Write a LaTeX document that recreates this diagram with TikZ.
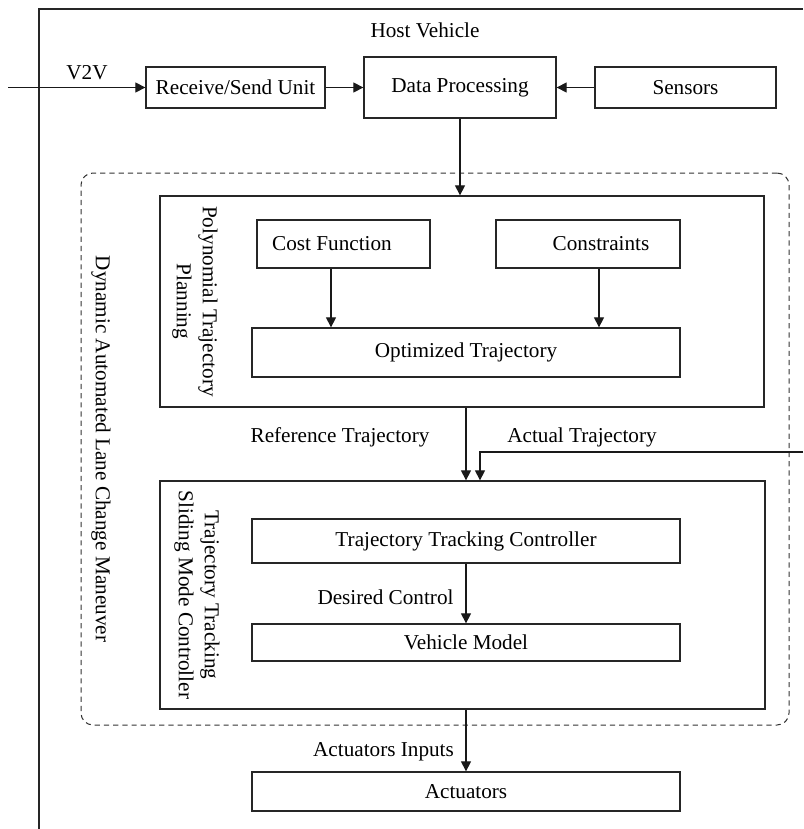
\documentclass[tikz,border=0pt]{standalone}
\usepackage{fontspec}
\setmainfont{Liberation Serif}
\usetikzlibrary{arrows.meta,fit}
\begin{document}
\begin{tikzpicture}[x=0.5pt,y=-0.5pt,
  font=\fontsize{10.6}{13}\selectfont,
  box/.style={draw=black!85, line width=0.65pt, inner sep=0pt},
  dashbox/.style={draw=black!80, line width=0.5pt, inner sep=0pt, rounded corners=6pt, dash pattern=on 2.6pt off 2pt},
  arr/.style={draw=black!90, line width=0.6pt, -{Triangle[length=5pt,width=5pt]}},
  frameline/.style={draw=black!85, line width=0.6pt},
  txt/.style={inner sep=0pt}
]
\useasboundingbox (0,0) rectangle (803,829);

% host vehicle frame
\draw[frameline] (803,9) -- (39,9) -- (39,829);
\node[txt] (host) at (425,30) {Host Vehicle};

% top row
\node[box, fit={(146,67) (325,108)}, label=center:Receive/Send Unit] (recv) {};
\node[box, fit={(364,57) (556,118)}, label=center:Data Processing] (dp) {};
\node[box, fit={(595,67) (776,108)}, label=center:Sensors] (sens) {};
\coordinate (v2vin) at (8,87.5);
\node[txt] (v2v) at (87,73) {V2V};
\draw[arr] (v2vin) -- (recv.west);
\draw[arr] (recv.east) -- (dp.west);
\draw[arr] (sens.west) -- (dp.east);

% dashed group
\node[dashbox, fit={(81,173) (789,725)}] (dalcm) {};
\node[txt, rotate=-90] (dalcmlbl) at (101,449) {Dynamic Automated Lane Change Maneuver};

% polynomial trajectory planning
\node[box, fit={(160,196) (764,407)}] (poly) {};
\node[txt, rotate=-90, align=center] (polylbl) at (195,301.5) {Polynomial Trajectory\\Planning};
\node[box, fit={(257,220) (430,268)}, label={[xshift=-5.75pt]center:Cost Function}] (cost) {};
\node[box, fit={(496,220) (680,268)}, label={[xshift=6.5pt]center:Constraints}] (cons) {};
\node[box, fit={(252,328) (680,377)}, label=center:Optimized Trajectory] (opt) {};
\draw[arr] (dp.south) -- (dp.south |- poly.north);
\draw[arr] ([xshift=-6.25pt]cost.south) -- ([xshift=-6.25pt]cost.south |- opt.north);
\draw[arr] ([xshift=5.5pt]cons.south) -- ([xshift=5.5pt]cons.south |- opt.north);

% tracking controller
\node[box, fit={(160,481) (765,709)}] (track) {};
\node[txt, rotate=-90, align=center] (tracklbl) at (197,595) {Trajectory Tracking\\Sliding Mode Controller};
\node[box, fit={(252,519) (680,563)}, label=center:Trajectory Tracking Controller] (ttc) {};
\node[box, fit={(252,624) (680,661)}, label=center:Vehicle Model] (vm) {};
\node[txt] (desired) at (385.5,597) {Desired Control};
\draw[arr] (ttc.south) -- (vm.north);

% between
\node[txt] (reflbl) at (340,437) {Reference Trajectory};
\node[txt] (actlbl) at (582,437) {Actual Trajectory};
\draw[arr] (opt.south |- poly.south) -- (opt.south |- track.north);
\coordinate (fbin) at (803,452);
\draw[arr] (fbin) -| ([xshift=7pt]opt.south |- track.north);

% actuators
\node[box, fit={(252,772) (680,811)}, label=center:Actuators] (act) {};
\node[txt] (actin) at (383.5,752) {Actuators Inputs};
\draw[arr] (opt.south |- track.south) -- (act.north);
\end{tikzpicture}
\end{document}
